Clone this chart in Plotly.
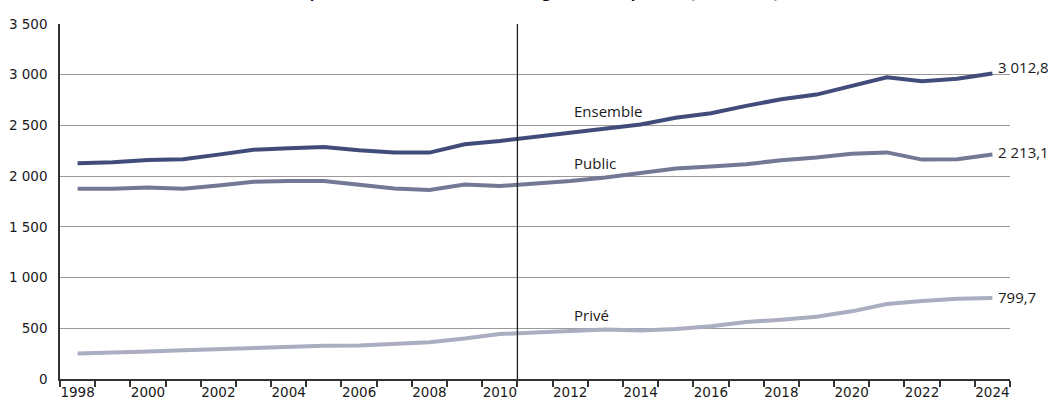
import plotly.graph_objects as go

years = list(range(1998, 2025))

ensemble = [2127, 2137, 2160, 2167, 2212, 2261, 2275, 2288, 2255, 2232, 2232, 2314, 2346,
            2386, 2428, 2472, 2510, 2575, 2621, 2693, 2758, 2804, 2889, 2975, 2935, 2961, 3012.8]
public = [1876, 1876, 1889, 1876, 1908, 1944, 1951, 1951, 1915, 1879, 1863, 1918, 1902,
          1922, 1951, 1987, 2033, 2075, 2095, 2118, 2157, 2183, 2220, 2234, 2163, 2167, 2213.1]
prive = [252, 258, 271, 284, 297, 307, 314, 327, 330, 346, 363, 399, 444,
         458, 471, 487, 477, 493, 520, 562, 585, 614, 667, 739, 768, 791, 799.7]

series_names = ["Ensemble", "Public", "Privé"]
series_colors = ["#414c7b", "#737895", "#abadc0"]
end_labels = ["3 012,8", "2 213,1", "799,7"]

y_ticks = [0, 500, 1000, 1500, 2000, 2500, 3000, 3500]
y_ticktext = ["0", "500", "1 000", "1 500", "2 000", "2 500", "3 000", "3 500"]
x_ticks = list(range(1998, 2025, 2))

title_text = "Population étudiante dans l'enseignement supérieur (en milliers)"

fig = go.Figure()
for name, vals, col in zip(series_names, [ensemble, public, prive], series_colors):
    fig.add_trace(go.Scatter(x=years, y=vals, mode="lines", name=name,
                             line=dict(color=col, width=4), hoverinfo="skip"))

font_lbl = dict(family="Open Sans, Noto Sans, sans-serif", size=15, color="#1a1a1a")
tick_font = dict(family="DejaVu Sans, sans-serif", size=13.5, color="#1a1a1a")

# series name labels
name_pos = [2640, 2125, 635]
for name, yv in zip(series_names, name_pos):
    fig.add_annotation(x=2012.05, y=yv, xref="x", yref="y", text=name, showarrow=False,
                       xanchor="left", yanchor="middle", font=font_lbl)

# end value labels
end_pos = [3075, 2240, 805]
for txt, yv in zip(end_labels, end_pos):
    fig.add_annotation(x=2024, y=yv, xref="x", yref="y", text=txt, showarrow=False,
                       xanchor="left", yanchor="middle", xshift=4, font=font_lbl)

# cropped title (only descenders visible in the reference)
fig.add_annotation(x=0.5, y=1, xref="paper", yref="paper", text="<b>" + title_text + "</b>",
                   showarrow=False, xanchor="center", yanchor="bottom", yshift=20,
                   font=dict(family="Open Sans, sans-serif", size=15, color="#111"))

# break line
fig.add_shape(type="line", x0=2010.5, x1=2010.5, y0=0, y1=3500, xref="x", yref="y",
              line=dict(color="#222", width=1.3))

fig.update_layout(
    width=1051, height=402,
    margin=dict(l=60, r=41, t=24, b=23, autoexpand=False),
    paper_bgcolor="white", plot_bgcolor="white",
    showlegend=False,
    font=dict(family="Open Sans, sans-serif", size=13, color="#1a1a1a"),
)
fig.update_xaxes(range=[1997.5, 2024.5], tickvals=x_ticks, ticktext=[str(v) for v in x_ticks],
                 ticks="", showgrid=False, showline=True, linecolor="#333", linewidth=1.5,
                 zeroline=False, automargin=False, tickfont=tick_font,
                 minor=dict(ticks="outside", tick0=1997.5, dtick=1, ticklen=6,
                            tickcolor="#333", tickwidth=1.5, showgrid=False))
fig.update_yaxes(range=[0, 3500], tickvals=y_ticks, ticktext=y_ticktext, showgrid=True,
                 gridcolor="#9a9a9a", gridwidth=1, showline=True, linecolor="#333",
                 linewidth=1.5, zeroline=False, automargin=False, ticks="",
                 ticklabelstandoff=8, tickfont=tick_font)

fig.write_html("out.html", config={"displayModeBar": False},
               post_script="document.body.style.margin='0';")
